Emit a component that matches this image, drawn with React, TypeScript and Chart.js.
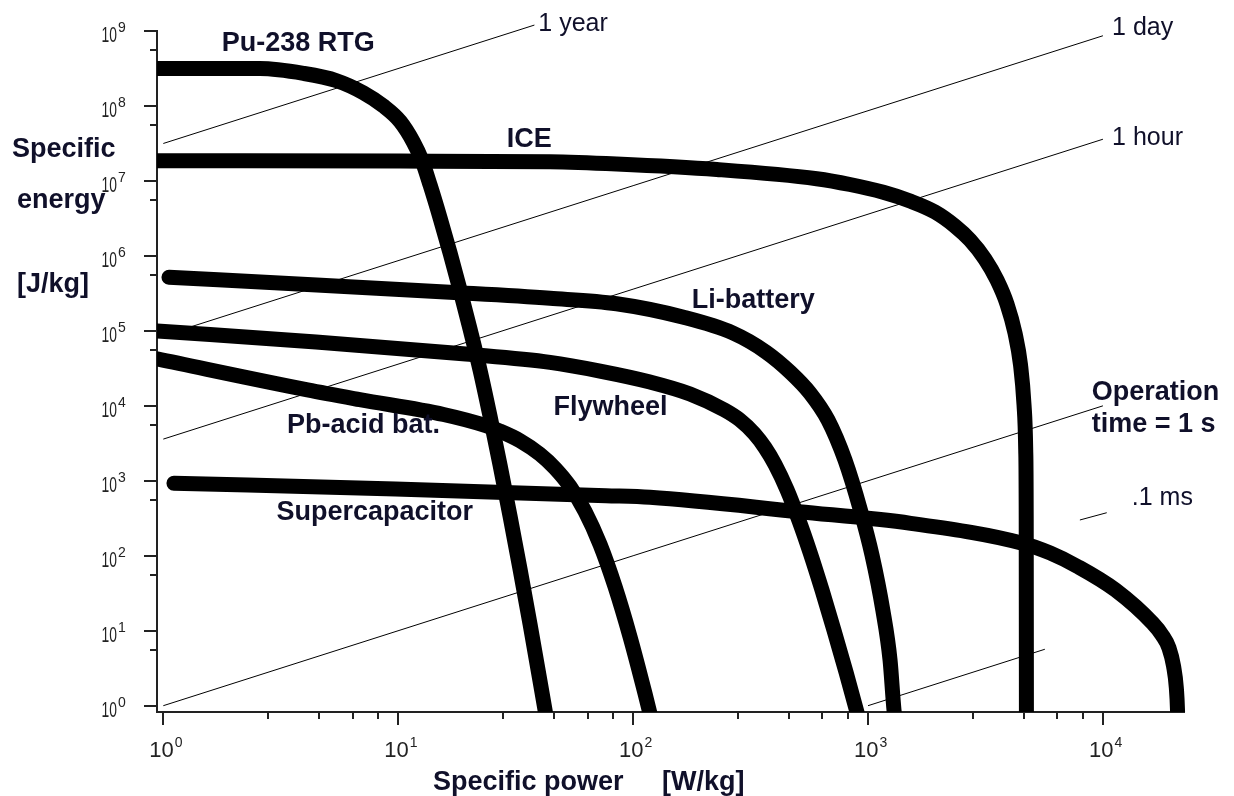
import React, { useEffect, useRef } from "react";
import { Chart, registerables } from "chart.js";

Chart.register(...registerables);

// ---------- Data: specific power [W/kg] vs specific energy [J/kg] ----------
const puPower = [0.937, 2.58, 3.95, 5.47, 7.1, 8.64, 10.2, 11.6, 12.6, 13.67, 15.08, 16.63, 18.33, 20.21, 22.3, 24.59, 27.13, 29.92, 33.0, 36.4, 40.14, 42.17, 43.0];
const puEnergy = [3.15e8, 3.15e8, 2.72e8, 2.17e8, 1.5e8, 1.0e8, 6.2e7, 3.3e7, 1.9e7, 8.82e6, 3.2e6, 1.09e6, 3.51e5, 1.06e5, 3.0e4, 7.31e3, 1.62e3, 339, 66.6, 12.3, 2.13, 0.876, 0.61];

const icePower = [0.95, 10.2, 44.3, 85.1, 227, 605, 838, 1162, 1510, 1929, 2346, 2718, 3148, 3541, 3906, 4224, 4459, 4615, 4692, 4715, 4725];
const iceEnergy = [1.86e7, 1.84e7, 1.8e7, 1.68e7, 1.42e7, 1.07e7, 8.96e6, 7.05e6, 5.4e6, 3.85e6, 2.5e6, 1.63e6, 9.08e5, 4.77e5, 2.28e5, 9.35e4, 3.51e4, 1.03e4, 2.58e3, 300, 0.5];

const liPower = [1.057, 4.5, 16.6, 44.3, 85.1, 164, 266, 368, 465.6, 566.4, 675.5, 798, 928, 1040, 1156, 1241, 1290, 1316];
const liEnergy = [5.18e5, 4.09e5, 3.27e5, 2.72e5, 2.3e5, 1.52e5, 9.36e4, 5.22e4, 2.83e4, 1.48e4, 6.47e3, 1.89e3, 408, 102, 18.9, 4.07, 0.877, 0.553];

const flyPower = [0.94, 4.47, 19.4, 44.3, 72.3, 118, 174.7, 245, 285, 328, 364, 402, 452, 508, 566, 637, 716, 806, 898, 911];
const flyEnergy = [1.0e5, 7.1e4, 4.9e4, 3.8e4, 2.91e4, 2.08e4, 1.44e4, 8.8e3, 6.47e3, 4.26e3, 2.78e3, 1.65e3, 761, 297, 112, 34.9, 10.2, 2.8, 0.814, 0.686];

const pbPower = [0.94, 4.11, 6.86, 15.6, 23.6, 27.13, 33.0, 40.14, 46.5, 53.9, 62.4, 72.3, 83.7, 97.0, 112.4, 116.9, 118.6];
const pbEnergy = [4.22e4, 1.63e4, 1.21e4, 7.66e3, 5.43e3, 4.6e3, 3.43e3, 2.26e3, 1.47e3, 837, 391, 142, 39.0, 8.33, 1.45, 0.884, 0.729];

const scPower = [1.11, 9.74, 76.7, 118, 508, 1520, 4540, 5953, 7830, 11320, 16280, 17850, 19110, 19980, 20540, 20780, 20840];
const scEnergy = [927, 778, 633, 602, 387, 271, 147, 109, 71.5, 34.9, 12.6, 8.77, 5.89, 3.38, 1.72, 0.85, 0.553];

// operation-time lines (E = P * t), end points
const yearPower = [1, 38];
const yearEnergy = [3.16e7, 1.2e9];
const dayPower = [1, 10000];
const dayEnergy = [8.64e4, 8.64e8];
const hourPower = [1, 10000];
const hourEnergy = [3600, 3.6e7];
const secPower = [1, 10000];
const secEnergy = [1, 10000];
const msPower = [1000, 5660];
const msEnergy = [1, 5.66];
const stubPower = [7980, 10380];
const stubEnergy = [300, 375];

// ticks
const xMajorTicks = [1, 10, 100, 1000, 10000];
const xMinorTicks = [2.8, 4.6, 6.4, 8.2, 28, 46, 64, 82, 280, 460, 640, 820, 2800, 4600, 6400, 8200];
const yMajorTicks = [1, 10, 100, 1e3, 1e4, 1e5, 1e6, 1e7, 1e8, 1e9];
const yMinorTicks = [5.5, 55, 550, 5.5e3, 5.5e4, 5.5e5, 5.5e6, 5.5e7, 5.5e8];

// labels anchored in data coordinates (left / baseline)
const curveLabels = ["Pu-238 RTG", "ICE", "Li-battery", "Flywheel", "Pb-acid bat.", "Supercapacitor", "Operation", "time = 1 s"];
const curveLabelPower = [1.773, 28.97, 177.6, 45.8, 3.36, 3.03, 8960, 8960];
const curveLabelEnergy = [5.41e8, 2.86e7, 2.0e5, 7550, 4300, 300, 1.2e4, 4520];
const timeLabels = ["1 year", "1 day", "1 hour", ".1 ms"];
const timeLabelPower = [39.5, 10940, 10940, 13270];
const timeLabelEnergy = [1e9, 8.83e8, 3.01e7, 475];

const X_MIN = 0.94;
const X_MAX = 22140;
const Y_MIN = 0.824;
const Y_MAX = 1e9;

const zip = (px: number[], py: number[]) => px.map((v, i) => ({ x: v, y: py[i] }));

const SANS = "'Liberation Sans', Arial, Helvetica, sans-serif";
const AXIS = "#222";
const TEXT = "#10102a";

const decorPlugin = {
  id: "ragoneDecor",
  afterDraw(chart: any) {
    const { ctx, chartArea: a } = chart;
    const xs = chart.scales.x;
    const ys = chart.scales.y;
    ctx.save();
    // tick marks
    ctx.strokeStyle = AXIS;
    ctx.lineWidth = 2;
    ctx.beginPath();
    yMajorTicks.forEach((v) => {
      const p = Math.round(ys.getPixelForValue(v));
      ctx.moveTo(a.left - 13, p);
      ctx.lineTo(a.left, p);
    });
    yMinorTicks.forEach((v) => {
      const p = Math.round(ys.getPixelForValue(v));
      ctx.moveTo(a.left - 7, p);
      ctx.lineTo(a.left, p);
    });
    xMajorTicks.forEach((v) => {
      const p = Math.round(xs.getPixelForValue(v));
      ctx.moveTo(p, a.bottom);
      ctx.lineTo(p, a.bottom + 13);
    });
    xMinorTicks.forEach((v) => {
      const p = Math.round(xs.getPixelForValue(v));
      if (p > a.right) return;
      ctx.moveTo(p, a.bottom);
      ctx.lineTo(p, a.bottom + 7);
    });
    ctx.stroke();

    // tick labels
    ctx.fillStyle = AXIS;
    ctx.textBaseline = "alphabetic";
    yMajorTicks.forEach((v) => {
      const p = ys.getPixelForValue(v);
      const e = String(Math.round(Math.log10(v)));
      ctx.save();
      ctx.translate(117, p + 11);
      ctx.scale(0.63, 1);
      ctx.font = `22px ${SANS}`;
      ctx.textAlign = "right";
      ctx.fillText("10", 0, 0);
      ctx.restore();
      ctx.font = `14px ${SANS}`;
      ctx.textAlign = "left";
      ctx.fillText(e, 118, p + 1);
    });
    xMajorTicks.forEach((v) => {
      const p = xs.getPixelForValue(v);
      const e = String(Math.round(Math.log10(v)));
      ctx.font = `22px ${SANS}`;
      ctx.textAlign = "left";
      const w = ctx.measureText("10").width;
      ctx.fillText("10", p - 14, a.bottom + 45);
      ctx.font = `14px ${SANS}`;
      ctx.fillText(e, p - 14 + w + 1, a.bottom + 35);
    });

    // curve labels
    ctx.fillStyle = TEXT;
    ctx.textAlign = "left";
    ctx.font = `bold 27px ${SANS}`;
    curveLabels.forEach((t, i) => {
      ctx.fillText(t, xs.getPixelForValue(curveLabelPower[i]), ys.getPixelForValue(curveLabelEnergy[i]));
    });
    ctx.font = `25px ${SANS}`;
    timeLabels.forEach((t, i) => {
      ctx.fillText(t, xs.getPixelForValue(timeLabelPower[i]), ys.getPixelForValue(timeLabelEnergy[i]));
    });

    // axis titles
    ctx.font = `bold 27px ${SANS}`;
    ctx.fillText("Specific", 12, 157);
    ctx.fillText("energy", 17, 208);
    ctx.fillText("[J/kg]", 17, 292);
    ctx.fillText("Specific power", 433, 790);
    ctx.fillText("[W/kg]", 662, 790);
    ctx.restore();
  },
};

export default function App() {
  const ref = useRef<HTMLCanvasElement | null>(null);
  useEffect(() => {
    if (!ref.current) return;
    const thick = (px: number[], py: number[]) => ({
      data: zip(px, py),
      showLine: true,
      borderColor: "#000",
      backgroundColor: "#000",
      borderWidth: 15,
      pointRadius: 0,
      pointHoverRadius: 0,
      cubicInterpolationMode: "monotone",
      borderCapStyle: "round",
      borderJoinStyle: "round",
      fill: false,
      clip: { left: 0, top: 20, right: 20, bottom: 0 },
    });
    const thin = (px: number[], py: number[]) => ({
      data: zip(px, py),
      showLine: true,
      borderColor: "#000",
      backgroundColor: "#000",
      borderWidth: 1,
      pointRadius: 0,
      pointHoverRadius: 0,
      tension: 0,
      fill: false,
      clip: false,
    });
    const chart = new Chart(ref.current, {
      type: "scatter",
      data: {
        datasets: [
          thin(yearPower, yearEnergy),
          thin(dayPower, dayEnergy),
          thin(hourPower, hourEnergy),
          thin(secPower, secEnergy),
          thin(msPower, msEnergy),
          thin(stubPower, stubEnergy),
          thick(puPower, puEnergy),
          thick(icePower, iceEnergy),
          thick(liPower, liEnergy),
          thick(flyPower, flyEnergy),
          thick(pbPower, pbEnergy),
          thick(scPower, scEnergy),
        ] as any,
      },
      options: {
        responsive: false,
        animation: false,
        events: [],
        layout: { padding: { top: 31, right: 50, left: 0, bottom: 0 } },
        plugins: {
          legend: { display: false },
          tooltip: { enabled: false },
          title: { display: false },
        },
        scales: {
          x: {
            type: "logarithmic",
            position: "bottom",
            min: X_MIN,
            max: X_MAX,
            grid: { display: false },
            ticks: { display: false },
            border: { display: true, color: AXIS, width: 2 },
            afterFit: (s: any) => {
              s.height = 84;
            },
          },
          y: {
            type: "logarithmic",
            position: "left",
            min: Y_MIN,
            max: Y_MAX,
            grid: { display: false },
            ticks: { display: false },
            border: { display: true, color: AXIS, width: 2 },
            afterFit: (s: any) => {
              s.width = 157;
            },
          },
        },
      } as any,
      plugins: [decorPlugin],
    });
    return () => chart.destroy();
  }, []);
  return (
    <canvas
      ref={ref}
      width={1234}
      height={796}
      style={{ position: "fixed", left: 0, top: 0, width: 1234, height: 796, display: "block", background: "#fff" }}
    />
  );
}
